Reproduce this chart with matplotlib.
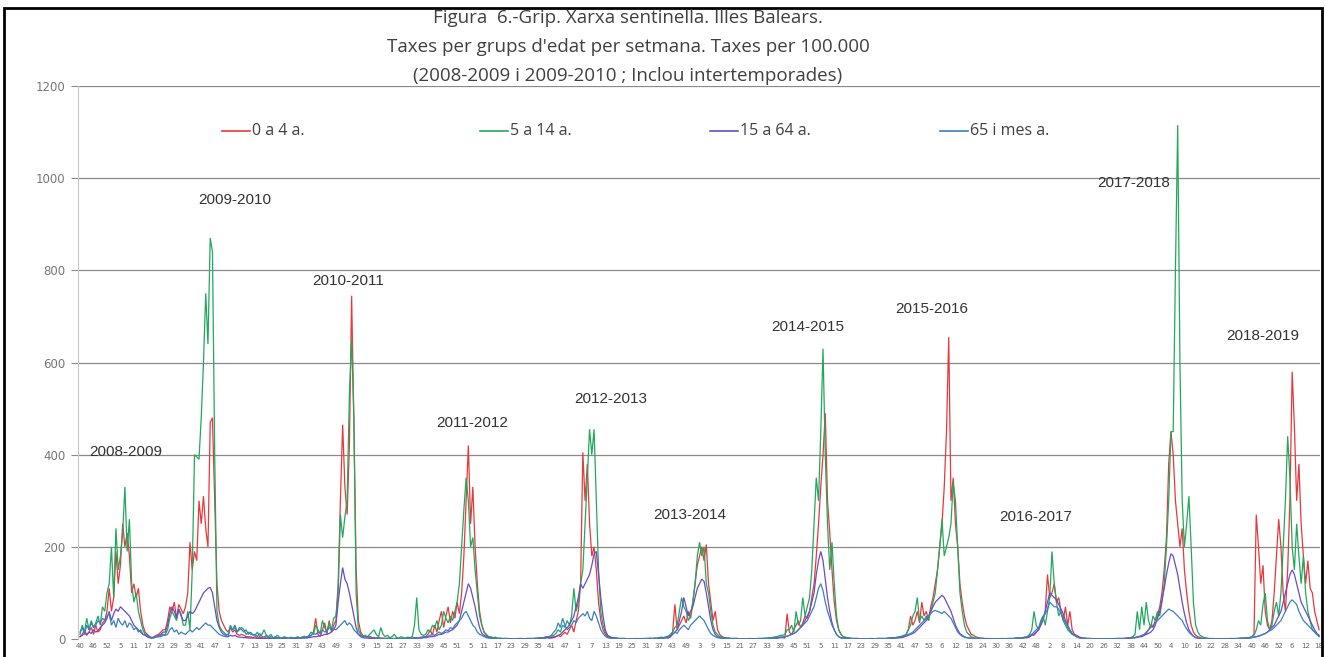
import matplotlib.pyplot as plt
from matplotlib.lines import Line2D
from matplotlib.patches import Rectangle
import numpy as np

# weekly rates per 100.000, from week 40 of 2008 (2008 and 2015 have a week 53)
start_year, start_week = 2008, 40
long_years = (2008, 2015)

rate_0_4 = [
    5, 10, 20, 8, 15, 25, 10, 30, 15, 20, 35, 40, 60, 110,
    # 2009
    60, 90, 190, 120, 160, 250, 200, 230, 180, 100, 120, 90, 110, 60, 30, 15, 10,
    5, 3, 5, 8, 10, 15, 20,
    20, 40, 70, 60, 80, 45, 75, 65,
    55, 70, 100, 210, 150, 190, 170, 300, 250, 310, 240, 200, 470, 480, 300, 120, 60, 40, 30, 20,
    # 2010
    15, 25, 15, 20, 10, 8, 10, 8, 5, 5,
    5, 3, 5, 2, 4, 3, 2, 5, 3, 2, 2, 3, 2, 1, 2, 3, 2, 1, 2, 1, 2, 3, 2, 3, 4,
    2, 5, 8, 15, 45, 10, 5, 20, 35, 10, 40, 15,
    30, 40, 120, 300, 465,
    # 2011
    330, 270, 420, 745, 470, 150, 40, 15,
    8, 5, 5, 4, 3, 3, 2, 3, 2, 2, 1, 2, 2, 1, 1, 2, 1, 1, 2, 1, 1, 2, 2, 3, 2, 3, 2,
    4, 5, 10, 20, 8, 30, 15, 40, 60, 25, 50, 70, 35, 60, 45, 80, 55,
    # 2012
    100, 180, 300, 420, 250, 330, 200, 120, 60, 30, 15, 8,
    5, 3, 2, 2, 1, 1, 1, 1, 1, 1, 0, 0, 0, 1, 1, 1, 0, 1, 1, 1, 1, 1, 2, 1, 2, 2, 3,
    2, 2, 3, 5, 8, 5, 10, 15, 10, 20, 30, 15, 40,
    # 2013
    60, 120, 405, 300, 380, 250, 180, 200, 150, 80, 40, 20,
    10, 5, 3, 2, 2, 1, 1, 1, 1, 1, 0, 0, 0, 0, 1, 1, 0, 1, 1, 1, 1, 1, 2, 1, 1, 2, 2,
    3, 2, 5, 15, 75, 20, 30, 40, 50, 35, 60, 45, 80,
    # 2014
    120, 160, 180, 200, 170, 205, 120, 80, 40, 60,
    20, 10, 5, 3, 2, 2, 1, 1, 1, 1, 0, 0, 0, 0, 1, 1, 0, 0, 1, 1, 1, 1, 1, 1, 2, 2, 1, 2, 3,
    3, 2, 55, 15, 10, 20, 30, 40, 25, 35, 50, 45, 60,
    # 2015
    90, 120, 180, 250, 330, 400, 490, 300, 230, 150,
    80, 40, 20, 10, 5, 3, 2, 2, 1, 1, 1, 1, 0, 0, 0, 0, 1, 1, 0, 1, 1, 1, 1, 1, 2, 1, 1, 2, 2,
    3, 3, 4, 10, 20, 50, 30, 40, 60, 35, 80, 50, 60, 40,
    # 2016
    70, 90, 120, 150, 200, 250, 330, 450, 655, 300, 350, 250, 200, 120, 80, 50, 30, 20,
    10, 8, 5, 3, 2, 2, 1, 1, 1, 1, 0, 0, 0, 0, 1, 0, 1, 1, 1, 1, 2, 1,
    1, 2, 3, 3, 5, 10, 8, 15, 20, 30, 40, 60,
    # 2017
    140, 90, 100, 120, 80, 90, 60, 40, 70, 30, 60, 20,
    10, 8, 5, 3, 2, 2, 1, 1, 1, 1, 0, 0, 0, 0, 1, 0, 1, 0, 1, 1, 1, 1, 1, 2, 2, 3, 2,
    3, 4, 5, 5, 8, 12, 20, 30, 25, 40, 50, 70, 100,
    # 2018
    150, 220, 380, 450, 400, 300, 250, 200, 240, 150, 100, 60,
    30, 15, 8, 5, 3, 2, 2, 1, 1, 1, 1, 0, 0, 0, 0, 1, 0, 1, 1, 1, 1, 1, 2, 2,
    2, 3, 3, 5, 10, 270, 200, 120, 160, 60, 30, 20, 40, 100, 180, 260,
    # 2019
    200, 100, 60, 150, 300, 580, 460, 300, 380, 250, 180, 120, 170, 110, 100, 60, 40, 20,
]

rate_5_14 = [
    10, 30, 15, 45, 20, 40, 25, 35, 50, 30, 70, 60, 100, 120,
    # 2009
    200, 90, 240, 150, 180, 230, 330, 190, 260, 120, 80, 100, 60, 40, 20, 10, 5,
    3, 2, 3, 5, 5, 8, 10,
    10, 20, 45, 60, 50, 40, 65, 55,
    30, 30, 60, 20, 150, 400, 395, 390, 480, 600, 750, 640, 870, 840, 400, 60, 30, 20, 15, 10,
    # 2010
    10, 30, 20, 25, 15, 20, 25, 20, 10, 15,
    10, 10, 8, 15, 5, 10, 20, 8, 5, 10, 3, 5, 8, 3, 2, 5, 3, 2, 4, 2, 3, 5, 2, 4, 6,
    3, 8, 15, 10, 30, 20, 12, 40, 25, 15, 35, 20,
    45, 50, 100, 270, 220,
    # 2011
    265, 300, 530, 650, 480, 100, 20, 10,
    5, 8, 5, 10, 15, 20, 10, 5, 25, 10, 5, 8, 3, 5, 10, 4, 2, 5, 3, 2, 4, 3, 5, 30, 90, 20, 10,
    8, 10, 20, 15, 30, 25, 40, 20, 30, 60, 45, 35, 50, 40, 60, 80, 120,
    # 2012
    200, 280, 350, 300, 200, 220, 150, 100, 50, 30, 15, 10,
    5, 5, 3, 4, 2, 2, 1, 1, 1, 1, 0, 0, 0, 1, 1, 1, 0, 1, 1, 1, 1, 2, 2, 3, 2, 4, 5,
    5, 6, 8, 12, 20, 15, 30, 25, 40, 30, 50, 110, 60,
    # 2013
    80, 120, 150, 250, 350, 455, 400, 455, 300, 150, 60, 30,
    15, 8, 5, 3, 2, 2, 1, 1, 1, 0, 0, 0, 0, 1, 1, 0, 1, 1, 1, 1, 2, 1, 2, 2, 3, 4, 3,
    5, 6, 10, 15, 25, 30, 60, 90, 70, 60, 40, 50, 80,
    # 2014
    120, 180, 210, 180, 200, 120, 100, 60, 30, 15,
    10, 5, 4, 3, 2, 2, 1, 1, 1, 1, 0, 0, 0, 0, 1, 1, 0, 1, 1, 1, 1, 2, 2, 3, 3, 4, 5, 6, 8,
    8, 10, 20, 20, 30, 15, 60, 30, 40, 90, 50, 70, 90,
    # 2015
    150, 250, 350, 300, 450, 630, 400, 250, 150, 210,
    120, 50, 20, 10, 5, 4, 3, 2, 1, 1, 1, 1, 0, 0, 0, 0, 1, 1, 0, 1, 1, 1, 1, 1, 2, 2, 3, 3, 4,
    5, 6, 8, 10, 20, 30, 50, 60, 90, 40, 50, 40, 50, 40,
    # 2016
    60, 80, 100, 150, 200, 260, 180, 200, 220, 250, 340, 300, 200, 100, 60, 30, 15, 10,
    5, 3, 2, 2, 1, 1, 1, 0, 0, 0, 0, 0, 0, 1, 1, 1, 0, 1, 1, 1, 2, 2,
    2, 3, 4, 5, 10, 20, 60, 30, 20, 40, 50, 30,
    # 2017
    60, 90, 190, 120, 80, 50, 60, 40, 30, 20, 15, 10,
    8, 5, 3, 2, 2, 1, 1, 1, 0, 0, 0, 0, 0, 0, 1, 0, 1, 0, 1, 1, 1, 1, 1, 2, 2, 3, 5,
    10, 60, 20, 70, 30, 80, 40, 25, 50, 40, 60, 50, 80,
    # 2018
    120, 200, 300, 450, 450, 800, 1115, 600, 300, 200, 250, 310,
    200, 80, 30, 15, 8, 5, 3, 2, 1, 1, 1, 0, 0, 0, 0, 1, 0, 1, 1, 1, 1, 1, 2, 2,
    2, 3, 3, 5, 8, 20, 40, 30, 75, 100, 40, 20, 30, 60, 80, 50,
    # 2019
    100, 200, 300, 440, 350, 200, 150, 250, 180, 120, 180, 100, 60, 40, 20, 15, 10, 5,
]

rate_15_64 = [
    5, 8, 12, 10, 15, 12, 20, 15, 18, 25, 30, 35, 45, 60,
    # 2009
    40, 55, 65, 60, 70, 65, 60, 55, 50, 40, 30, 25, 20, 15, 10, 8, 5,
    3, 2, 3, 5, 8, 10, 15,
    15, 30, 55, 70, 60, 45, 65, 50,
    40, 40, 50, 60, 55, 60, 70, 80, 90, 100, 105, 110, 112, 100, 70, 40, 25, 15, 10, 8,
    # 2010
    5, 8, 6, 8, 5, 4, 4, 3, 3, 2,
    2, 2, 2, 1, 1, 1, 1, 1, 1, 1, 1, 1, 1, 1, 1, 1, 1, 1, 1, 1, 1, 1, 2, 2, 2,
    3, 3, 4, 5, 5, 6, 8, 8, 10, 10, 12, 15,
    20, 30, 80, 120, 155,
    # 2011
    130, 120, 100, 75, 50, 25, 10, 5,
    3, 2, 2, 1, 1, 1, 1, 1, 1, 1, 1, 0, 0, 0, 0, 0, 0, 0, 1, 1, 1, 1, 1, 1, 2, 2, 2,
    3, 3, 4, 5, 5, 6, 8, 10, 10, 12, 15, 15, 18, 20, 25, 30, 40,
    # 2012
    60, 80, 100, 120, 110, 90, 70, 45, 25, 12, 8, 5,
    3, 2, 2, 1, 1, 1, 1, 1, 1, 0, 0, 0, 0, 0, 0, 0, 0, 1, 1, 1, 1, 1, 1, 2, 2, 2, 3,
    3, 3, 5, 5, 8, 10, 15, 20, 25, 30, 40, 50, 70,
    # 2013
    90, 120, 110, 120, 130, 140, 160, 185, 190, 140, 90, 50,
    20, 8, 4, 3, 2, 2, 1, 1, 1, 1, 0, 0, 0, 0, 0, 0, 0, 0, 1, 1, 1, 1, 1, 1, 2, 2, 2,
    3, 3, 5, 10, 15, 20, 40, 60, 90, 70, 50, 60, 70,
    # 2014
    90, 110, 120, 130, 125, 100, 70, 40, 20, 10,
    5, 3, 2, 2, 1, 1, 1, 1, 1, 1, 0, 0, 0, 0, 0, 0, 0, 0, 1, 1, 1, 1, 1, 1, 2, 2, 3, 3, 4,
    4, 5, 6, 8, 10, 12, 15, 20, 25, 30, 40, 50, 60,
    # 2015
    80, 100, 140, 170, 190, 170, 130, 90, 60, 35,
    20, 10, 5, 3, 2, 2, 1, 1, 1, 1, 1, 0, 0, 0, 0, 0, 0, 0, 0, 1, 1, 1, 1, 1, 1, 2, 2, 3, 3,
    3, 4, 5, 6, 8, 10, 12, 15, 20, 25, 30, 35, 40, 50,
    # 2016
    60, 70, 80, 85, 90, 95, 90, 80, 70, 60, 45, 30, 20, 12, 8, 5, 3, 2,
    2, 1, 1, 1, 1, 1, 0, 0, 0, 0, 0, 0, 0, 0, 0, 0, 1, 1, 1, 1, 1, 2,
    2, 2, 3, 3, 5, 8, 10, 15, 20, 30, 45, 60,
    # 2017
    80, 100, 95, 90, 85, 75, 65, 55, 40, 30, 20, 12,
    8, 5, 3, 2, 1, 1, 1, 1, 0, 0, 0, 0, 0, 0, 0, 0, 0, 0, 0, 1, 1, 1, 1, 1, 2, 2, 3,
    3, 4, 5, 6, 8, 10, 12, 15, 20, 30, 45, 60, 85,
    # 2018
    110, 140, 165, 185, 180, 160, 140, 110, 80, 55, 35, 20,
    12, 6, 3, 2, 1, 1, 1, 1, 0, 0, 0, 0, 0, 0, 0, 0, 0, 0, 0, 0, 1, 1, 1, 1,
    1, 2, 2, 3, 4, 5, 6, 8, 10, 12, 15, 20, 25, 30, 40, 50,
    # 2019
    60, 80, 100, 120, 140, 150, 140, 120, 100, 80, 70, 60, 50, 40, 30, 20, 12, 8,
]

rate_65 = [
    15, 25, 10, 30, 20, 35, 25, 30, 40, 35, 45, 40, 50, 55,
    # 2009
    30, 40, 25, 45, 35, 30, 40, 25, 35, 30, 20, 25, 15, 20, 10, 10, 8,
    5, 3, 3, 5, 5, 5, 8,
    8, 10, 20, 25, 15, 20, 10, 15,
    12, 10, 15, 20, 15, 20, 25, 20, 25, 30, 35, 30, 30, 25, 20, 15, 10, 8, 6, 5,
    # 2010
    5, 25, 20, 30, 15, 25, 20, 15, 20, 10,
    15, 8, 10, 5, 12, 6, 4, 8, 3, 5, 2, 4, 3, 2, 2, 3, 2, 1, 2, 2, 3, 2, 3, 4, 3,
    5, 6, 8, 12, 10, 15, 12, 20, 15, 18, 25, 20,
    22, 20, 25, 30, 35,
    # 2011
    40, 30, 35, 30, 20, 15, 10, 8,
    5, 5, 4, 6, 3, 2, 2, 2, 1, 1, 1, 1, 1, 1, 1, 1, 1, 1, 1, 1, 1, 2, 2, 2, 3, 3, 4,
    5, 5, 6, 8, 10, 8, 12, 15, 12, 15, 20, 18, 25, 22, 30, 35, 40,
    # 2012
    45, 55, 60, 50, 40, 30, 25, 15, 10, 8, 5, 3,
    2, 2, 1, 1, 1, 1, 1, 1, 1, 0, 0, 0, 0, 0, 0, 0, 0, 1, 1, 1, 1, 1, 1, 2, 2, 3, 5,
    5, 8, 15, 20, 35, 25, 45, 30, 20, 25, 30, 40, 35,
    # 2013
    45, 50, 55, 50, 60, 45, 40, 60, 50, 35, 20, 12,
    6, 3, 2, 1, 1, 1, 1, 1, 1, 1, 0, 0, 0, 0, 0, 0, 0, 0, 1, 1, 1, 1, 1, 1, 2, 2, 3,
    3, 5, 8, 10, 15, 12, 20, 25, 30, 25, 20, 30, 35,
    # 2014
    40, 45, 50, 45, 40, 30, 20, 12, 8, 5,
    3, 2, 2, 1, 1, 1, 1, 1, 1, 1, 0, 0, 0, 0, 0, 0, 0, 0, 1, 1, 1, 1, 1, 1, 2, 2, 3, 3, 4,
    4, 5, 6, 8, 10, 12, 15, 20, 25, 30, 35, 40, 50,
    # 2015
    60, 70, 90, 110, 120, 105, 80, 60, 45, 30,
    20, 10, 5, 2, 1, 1, 1, 1, 1, 1, 1, 0, 0, 0, 0, 0, 0, 0, 0, 1, 1, 1, 1, 1, 1, 2, 2, 3, 3,
    4, 5, 6, 8, 10, 12, 15, 20, 25, 30, 35, 40, 45, 50,
    # 2016
    55, 60, 62, 60, 58, 55, 60, 55, 50, 45, 35, 25, 15, 10, 6, 4, 3, 2,
    2, 1, 1, 1, 1, 1, 0, 0, 0, 0, 0, 0, 0, 0, 0, 0, 1, 1, 1, 1, 2, 2,
    2, 3, 4, 5, 8, 10, 15, 20, 25, 35, 45, 55,
    # 2017
    65, 80, 75, 70, 70, 65, 55, 45, 35, 25, 18, 12,
    8, 5, 3, 2, 1, 1, 1, 1, 0, 0, 0, 0, 0, 0, 0, 0, 0, 0, 0, 1, 1, 1, 1, 1, 2, 2, 3,
    3, 5, 6, 8, 10, 15, 20, 25, 30, 35, 40, 45, 50,
    # 2018
    55, 60, 65, 62, 60, 55, 50, 45, 40, 30, 22, 15,
    10, 6, 3, 2, 1, 1, 1, 1, 0, 0, 0, 0, 0, 0, 0, 0, 0, 0, 0, 0, 1, 1, 1, 1,
    1, 2, 2, 3, 4, 5, 6, 8, 10, 12, 15, 18, 20, 25, 30, 35,
    # 2019
    40, 50, 60, 70, 80, 85, 80, 75, 60, 50, 40, 35, 30, 25, 20, 15, 10, 6,
]

series = [rate_0_4, rate_5_14, rate_15_64, rate_65]
series_names = ["0 a 4 a.", "5 a 14 a.", "15 a 64 a.", "65 i mes a."]
series_colors = ["#e8383d", "#22a85e", "#6a4bc8", "#3d7fc0"]

seasons = ["2008-2009", "2009-2010", "2010-2011", "2011-2012", "2012-2013", "2013-2014",
           "2014-2015", "2015-2016", "2016-2017", "2017-2018", "2018-2019"]
season_label_x = [20.5, 69, 119.4, 174.6, 236.5, 271.7, 324.3, 379.5, 425.8, 469.5, 527]
season_label_y = [405, 953, 777, 469, 521, 269, 677, 716, 265, 990, 658]

# week number of every point on the x axis
n = len(rate_0_4)
weeks = []
yr, wk = start_year, start_week
for _ in range(n):
    weeks.append(wk)
    wk += 1
    if wk > (53 if yr in long_years else 52):
        yr, wk = yr + 1, 1

W, H = 1325, 657
fig = plt.figure(figsize=(W / 100, H / 100), dpi=100)
ax = fig.add_axes([78 / W, 18 / H, (1320 - 78) / W, (639 - 86) / H])

for vals, col in zip(series, series_colors):
    ax.plot(np.arange(len(vals)), vals, color=col, lw=0.9, solid_joinstyle="miter")

ax.set_xlim(-0.9, 552.4)
ax.set_ylim(0, 1200)
ax.set_yticks(np.arange(0, 1201, 200))
ax.yaxis.grid(True, color="#8a8a8a", lw=0.9)
ax.set_axisbelow(True)
for s in ("top", "right", "bottom"):
    ax.spines[s].set_visible(False)
ax.spines["left"].set_color("#c8c8c8")
ax.tick_params(axis="y", length=5, color="#8a8a8a", pad=4, labelsize=8.5, labelcolor="#777777")

tick_pos = np.arange(0, n, 6)
ax.set_xticks(tick_pos)
ax.set_xticklabels([str(weeks[i]) for i in tick_pos], fontsize=5, color="#666666")
ax.tick_params(axis="x", length=0, pad=3)

for name, x, y in zip(seasons, season_label_x, season_label_y):
    ax.text(x, y, name, ha="center", va="center", fontsize=11, color="#333333",
            family="Liberation Sans")

title = ["Figura  6.-Grip. Xarxa sentinella. Illes Balears.",
         "Taxes per grups d'edat per setmana. Taxes per 100.000",
         "(2008-2009 i 2009-2010 ; Inclou intertemporades)"]
for k, line in enumerate(title):
    fig.text(628 / W, 1 - (18 + 29 * k) / H, line, ha="center", va="center",
             fontsize=13.5, color="#404040", family="Open Sans")

# legend row
leg_x = [222, 480, 710, 940]
for x0, name, col in zip(leg_x, series_names, series_colors):
    fig.add_artist(Line2D([x0 / W, (x0 + 28) / W], [1 - 131 / H] * 2, color=col, lw=1.2,
                          transform=fig.transFigure))
    fig.text((x0 + 30) / W, 1 - 131 / H, name, ha="left", va="center", fontsize=11.5,
             color="#404040", family="Open Sans")

fig.add_artist(Rectangle((4 / W, -0.05), (1322 - 4) / W, 1.05 - 8 / H, fill=False,
                         edgecolor="black", lw=2, transform=fig.transFigure))

fig.savefig("out.png", dpi=100, facecolor="white")
